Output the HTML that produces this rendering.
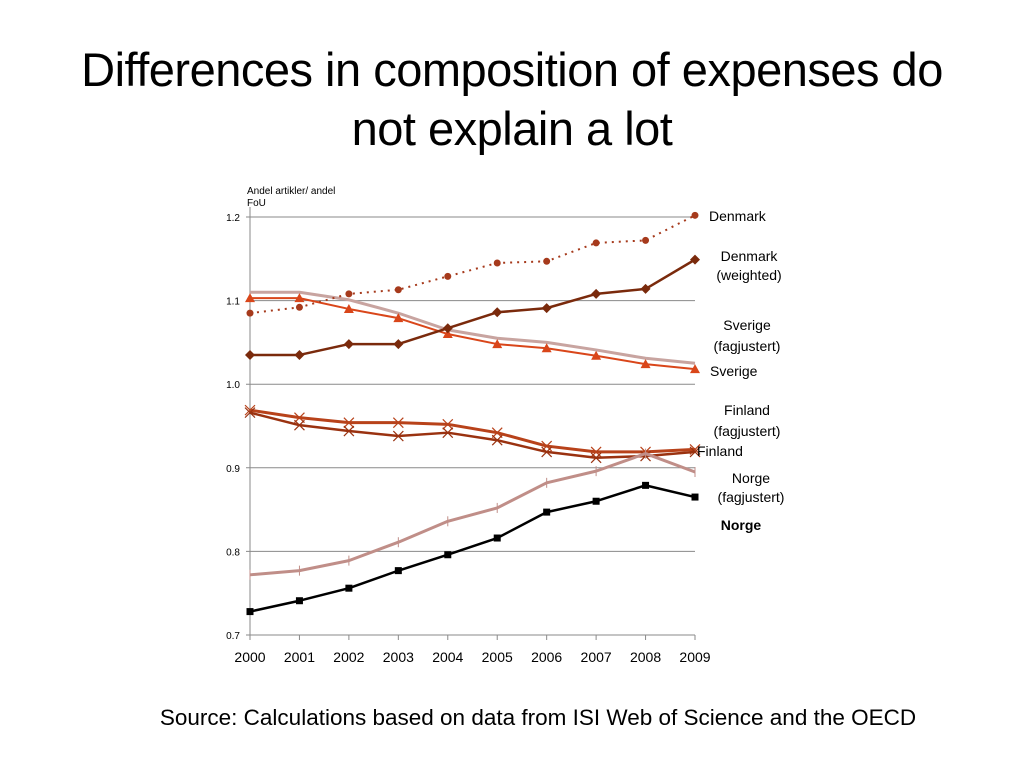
<!DOCTYPE html>
<html><head><meta charset="utf-8"><style>
body{margin:0;background:#fff;width:1024px;height:768px;overflow:hidden;font-family:"Liberation Sans",sans-serif;}
#title{position:absolute;left:0;top:40px;width:1024px;text-align:center;font-size:47px;line-height:59px;color:#000;letter-spacing:-0.5px;}
#source{position:absolute;left:0;top:705px;width:1076px;text-align:center;font-size:22.5px;color:#000;}
svg{position:absolute;left:0;top:0;}
</style></head><body>
<div id="title">Differences in composition of expenses do<br>not explain a lot</div>
<div id="source">Source: Calculations based on data from ISI Web of Science and the OECD</div>
<svg id="chart" width="1024" height="768"></svg>
<script>
const years=[2000,2001,2002,2003,2004,2005,2006,2007,2008,2009];
const yTicks=[0.7,0.8,0.9,1.0,1.1,1.2];
const denmark=[1.085,1.092,1.108,1.113,1.129,1.145,1.147,1.169,1.172,1.202];
const denmarkW=[1.035,1.035,1.048,1.048,1.067,1.086,1.091,1.108,1.114,1.149];
const sverigeF=[1.110,1.110,1.101,1.085,1.065,1.055,1.050,1.041,1.031,1.025];
const sverige=[1.103,1.103,1.090,1.079,1.060,1.048,1.043,1.034,1.024,1.018];
const finlandF=[0.969,0.960,0.954,0.954,0.952,0.942,0.926,0.919,0.919,0.922];
const finland=[0.966,0.951,0.944,0.938,0.942,0.933,0.919,0.912,0.914,0.919];
const norgeF=[0.772,0.777,0.789,0.811,0.836,0.852,0.882,0.896,0.917,0.895];
const norge=[0.728,0.741,0.756,0.777,0.796,0.816,0.847,0.860,0.879,0.865];

const svg=document.getElementById('chart');
const NS='http://www.w3.org/2000/svg';
const X0=250,X1=695,Y0=635,Y1=217;
function xs(i){return X0+(X1-X0)*i/(years.length-1);}
function ys(v){return Y0-(v-0.7)/(1.2-0.7)*(Y0-Y1);}
function mk(tag,attrs,parent){const e=document.createElementNS(NS,tag);for(const k in attrs)e.setAttribute(k,attrs[k]);(parent||svg).appendChild(e);return e;}

yTicks.forEach(t=>{
  const g=mk('line',{x1:X0-4,x2:X1,y1:ys(t),y2:ys(t),stroke:'#8a8a8a','stroke-width':1});
  
  
  const l=mk('text',{x:X0-10,y:ys(t)+4,'font-size':10,'text-anchor':'end',fill:'#000'});
  l.textContent=t.toFixed(1);
  
  
});
const ax=mk('line',{x1:X0,x2:X0,y1:Y1-10,y2:Y0+5,stroke:'#8a8a8a'});


years.forEach((yr,i)=>{
  const t=mk('line',{x1:xs(i),x2:xs(i),y1:Y0,y2:Y0+5,stroke:'#8a8a8a'});
  
  
  const l=mk('text',{x:xs(i),y:662,'font-size':14,'text-anchor':'middle',fill:'#000'});
  l.textContent=yr;
  
  
});
const yt=mk('text',{x:247,y:194,'font-size':10,fill:'#000'});
yt.innerHTML='<tspan x="247">Andel artikler/ andel</tspan><tspan x="247" dy="12">FoU</tspan>';



function series(name,vals,color,width,dash,marker){
  const g=mk('g',{});
  
  
  const pts=vals.map((v,i)=>xs(i)+','+ys(v)).join(' ');
  const attrs={points:pts,fill:'none',stroke:color,'stroke-width':width,'stroke-linejoin':'round'};
  if(dash)attrs['stroke-dasharray']=dash;
  mk('polyline',attrs,g);
  vals.forEach((v,i)=>{
    const x=xs(i),y=ys(v);let m;
    if(marker==='circle')m=mk('circle',{cx:x,cy:y,r:3.5,fill:color},g);
    else if(marker==='diamond')m=mk('polygon',{points:`${x},${y-5} ${x+5},${y} ${x},${y+5} ${x-5},${y}`,fill:color},g);
    else if(marker==='tri')m=mk('polygon',{points:`${x},${y-5} ${x+5},${y+4} ${x-5},${y+4}`,fill:color},g);
    else if(marker==='square')m=mk('rect',{x:x-3.5,y:y-3.5,width:7,height:7,fill:color},g);
    else if(marker==='x')m=mk('path',{d:`M${x-5},${y-5}L${x+5},${y+5}M${x-5},${y+5}L${x+5},${y-5}`,stroke:color,'stroke-width':1.2},g);
    else if(marker==='plus')m=mk('path',{d:`M${x},${y-5}L${x},${y+5}`,stroke:color,'stroke-width':1},g);
    if(m){}
  });
}
series('sverige-fagjustert',sverigeF,'#c8a4a0',3,null,null);
series('sverige',sverige,'#d9461a',2,null,'tri');
series('denmark',denmark,'#a63a1c',2,'2,5','circle');
series('denmark-weighted',denmarkW,'#7a2a0c',2.5,null,'diamond');
series('finland-fagjustert',finlandF,'#b8421a',3,null,'x');
series('finland',finland,'#9a3210',2.5,null,'x');
series('norge-fagjustert',norgeF,'#c08e88',3,null,'plus');
series('norge',norge,'#000',2.5,null,'square');

const labels=[
 ['Denmark',[709],[221],false,'start'],
 ['Denmark (weighted)',[749,749],[261,280],false,'middle'],
 ['Sverige (fagjustert)',[747,747],[330,351],false,'middle'],
 ['Sverige',[710],[376],false,'start'],
 ['Finland (fagjustert)',[747,747],[415,436],false,'middle'],
 ['Finland',[697],[456],false,'start'],
 ['Norge (fagjustert)',[751,751],[483,502],false,'middle'],
 ['Norge',[741],[530],true,'middle']];
labels.forEach(([txt,xsL,ysL,bold,anchor])=>{
  const parts=txt.includes('(')?[txt.slice(0,txt.indexOf(' (')),txt.slice(txt.indexOf('(')) ]:[txt];
  parts.forEach((p,k)=>{
    const t=mk('text',{x:xsL[k],y:ysL[k],'font-size':14,'text-anchor':anchor,fill:'#000','font-weight':bold?'bold':'normal'});
    t.textContent=p;
    
    
  });
});
</script>
</body></html>
